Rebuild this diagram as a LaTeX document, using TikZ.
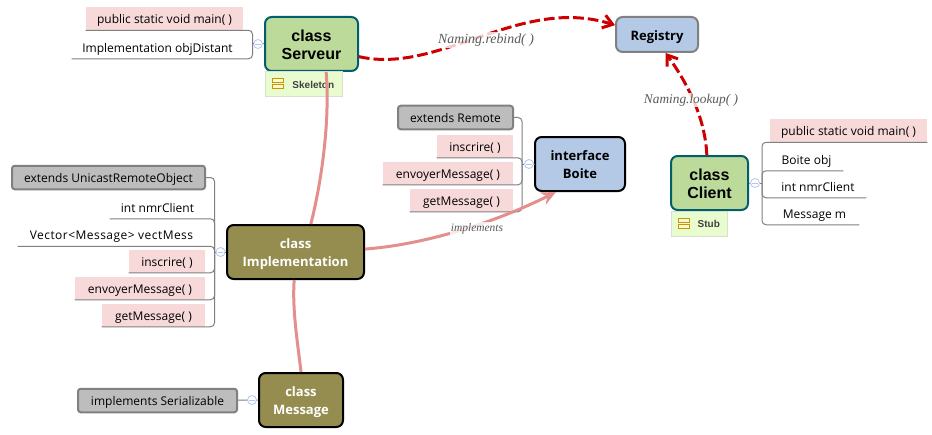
\documentclass[tikz,border=0pt]{standalone}
\usepackage{fontspec}
\setmainfont{Open Sans}
\newfontfamily\arialfont{Liberation Sans}
\newfontfamily\timesfont{Liberation Serif}
\usetikzlibrary{arrows.meta, positioning}
\definecolor{leafpink}{HTML}{F7D9D9}
\definecolor{leafgray}{HTML}{BDBDBD}
\definecolor{branchgray}{HTML}{808080}
\definecolor{greenfill}{HTML}{BCDB9A}
\definecolor{tealline}{HTML}{005F6B}
\definecolor{olivefill}{HTML}{958D4F}
\definecolor{bluefill}{HTML}{B4C9E5}
\definecolor{notefill}{HTML}{E8FCCF}
\definecolor{noteline}{HTML}{D8E0D0}
\definecolor{iconline}{HTML}{C89600}
\definecolor{iconfill}{HTML}{FFF8D0}
\definecolor{togglecol}{HTML}{B4C6F0}
\definecolor{linkpink}{HTML}{E58E8E}
\definecolor{linkred}{HTML}{CC0000}
\newcommand{\px}{0.75pt}
\tikzset{
    leaf/.style={inner sep=0pt, minimum height=23*\px, text height=8pt, text depth=0pt, font=\fontsize{9}{11}\selectfont},
    pinkleaf/.style={leaf, fill=leafpink},
    grayleaf/.style={leaf, fill=leafgray, draw=branchgray, line width=1.5pt, rounded corners=2pt, minimum height=23.5*\px},
    branch/.style={draw=branchgray, line width=0.75pt, rounded corners=3pt},
    classbox/.style={draw, line width=1.5pt, rounded corners=5pt, inner sep=0pt, align=center},
    greenclass/.style={classbox, draw=tealline, fill=greenfill, text height=23pt, text depth=0pt, font=\arialfont\fontsize{12}{13.5}\selectfont\bfseries},
    oliveclass/.style={classbox, draw=black, fill=olivefill, text=white, text height=22.2pt, text depth=0pt, font=\fontsize{9.75}{13.5}\selectfont\bfseries},
    blueclass/.style={classbox, draw=black, fill=bluefill, text height=22.2pt, text depth=0pt, font=\fontsize{9.75}{13.5}\selectfont\bfseries},
    notebox/.style={draw=noteline, fill=notefill, line width=0.75pt, inner sep=0pt, minimum height=25*\px, text=black!75, font=\arialfont\fontsize{7.5}{9}\selectfont\bfseries},
    iconbar/.style={draw=iconline, fill=iconfill, line width=0.75pt},
    toggle/.style={circle, draw=togglecol, fill=white, line width=0.6pt, inner sep=0pt, minimum size=9*\px,
        path picture={\draw[togglecol, line width=0.6pt] ([xshift=-2pt]path picture bounding box.center) -- ([xshift=2pt]path picture bounding box.center);}},
    softlink/.style={draw=linkpink, line width=2.25pt},
    remotelink/.style={draw=linkred, line width=2.25pt, dash pattern=on 8pt off 3pt, -{Straight Barb[length=7pt,width=10pt]}},
    linklabel/.style={fill=white, fill opacity=0.8, text opacity=1, inner sep=1pt, text=black!65, font=\timesfont\itshape\fontsize{10.4}{12}\selectfont},
}
\begin{document}
\begin{tikzpicture}[x=\px, y=-\px]
    \useasboundingbox (0,0) rectangle (932,435);

    % main boxes
    \node[greenclass, minimum width=93*\px, minimum height=54*\px] (serveur) at (311.5,44) {class\\Serveur};
    \node[greenclass, minimum width=77*\px, minimum height=54*\px] (client) at (709.5,183) {class\\Client};
    \node[oliveclass, minimum width=137*\px, minimum height=54*\px] (implementation) at (295.5,252) {class\\Implementation};
    \node[oliveclass, minimum width=84*\px, minimum height=54*\px] (message) at (301,400) {class\\Message};
    \node[blueclass, minimum width=90*\px, minimum height=54*\px] (boite) at (580,164) {interface\\Boite};
    \node[blueclass, draw=branchgray, text height=9.3pt, text depth=0pt, minimum width=82*\px, minimum height=35*\px] (registry) at (657,34.5) {Registry};

    % notes under the green boxes
    \node[notebox, minimum width=77*\px] (skeleton) at (304,84.5) {\hspace*{14pt}Skeleton};
    \node[notebox, minimum width=56*\px] (stub) at (699.5,223.5) {\hspace*{14pt}Stub};
    \foreach \ytop in {79,85} {
        \draw[iconbar] (272,\ytop) rectangle (283,\ytop+4);
        \draw[iconbar] (678,\ytop+139) rectangle (689,\ytop+143);
    }

    % toggles and hubs
    \node[toggle] (toggleServeur) at (258,44) {};
    \node[toggle] (toggleImpl) at (220.5,252) {};
    \node[toggle] (toggleBoite) at (529,164) {};
    \node[toggle] (toggleClient) at (755,183) {};
    \node[toggle] (toggleMessage) at (252,400) {};
    \coordinate (hubServeur) at (252.5,44);
    \coordinate (hubImpl) at (214.5,252);
    \coordinate (hubBoite) at (522,164);
    \coordinate (hubClient) at (762,183);

    % class Serveur
    \node[pinkleaf, minimum width=157*\px] (srvMain) at (164.5,18.5) {public static void main( )};
    \node[leaf, minimum width=171*\px] (srvObj) at (157.5,47) {Implementation objDistant};
    \foreach \leafname in {srvMain, srvObj}
        \draw[branch] (hubServeur) |- (\leafname.south west);
    \draw[branch] (hubServeur) -- (toggleServeur) -- (serveur);

    % class Implementation
    \node[grayleaf, minimum width=193*\px] (implExtends) at (108.5,177.5) {extends UnicastRemoteObject};
    \node[leaf, minimum width=95*\px] (implInt) at (157.5,207) {int nmrClient};
    \node[leaf, minimum width=187*\px] (implVect) at (111.5,234.5) {\addfontfeature{LetterSpace=3.8}Vector<Message> vectMess};
    \node[pinkleaf, minimum width=76*\px] (implInscrire) at (167,261) {inscrire( )};
    \node[pinkleaf, minimum width=130*\px] (implEnvoyer) at (140,288) {envoyerMessage( )};
    \node[pinkleaf, minimum width=103*\px] (implGet) at (153.5,315) {getMessage( )};
    \foreach \leafname in {implInt, implVect, implInscrire, implEnvoyer, implGet}
        \draw[branch] (hubImpl) |- (\leafname.south west);
    \draw[branch] (hubImpl) |- (implExtends.east);
    \draw[branch] (hubImpl) -- (toggleImpl) -- (implementation);

    % interface Boite
    \node[grayleaf, minimum width=115*\px] (boiteExtends) at (455.5,117.5) {extends Remote};
    \node[pinkleaf, minimum width=76*\px] (boiteInscrire) at (475,146) {inscrire( )};
    \node[pinkleaf, minimum width=130*\px] (boiteEnvoyer) at (448,173) {envoyerMessage( )};
    \node[pinkleaf, minimum width=103*\px] (boiteGet) at (461.5,200) {getMessage( )};
    \foreach \leafname in {boiteInscrire, boiteEnvoyer, boiteGet}
        \draw[branch] (hubBoite) |- (\leafname.south west);
    \draw[branch] (hubBoite) |- (boiteExtends.east);
    \draw[branch] (hubBoite) -- (toggleBoite) -- (boite);

    % class Client
    \node[pinkleaf, minimum width=157*\px] (cliMain) at (848.5,130.5) {public static void main( )};
    \node[leaf, minimum width=73*\px] (cliObj) at (806.5,159) {Boite obj};
    \node[leaf, minimum width=96*\px] (cliInt) at (818,186) {int nmrClient};
    \node[leaf, minimum width=89*\px] (cliMsg) at (814.5,213) {Message m};
    \foreach \leafname in {cliMain, cliObj, cliInt, cliMsg}
        \draw[branch] (hubClient) |- (\leafname.south east);
    \draw[branch] (client) -- (toggleClient) -- (hubClient);

    % class Message
    \node[grayleaf, minimum width=159*\px] (msgImplements) at (157.5,400.5) {implements Serializable};
    \draw[branch] (msgImplements) -- (toggleMessage) -- (message);

    % links between classes
    \draw[softlink] ([xshift=11pt]serveur.south) .. controls (330,120) and (322,180) .. ([xshift=11.5pt]implementation.north);
    \draw[softlink] ([xshift=-1pt]implementation.south) .. controls (292,310) and (298,345) .. (message.north);
    \draw[softlink, -{Stealth[length=11pt,width=10pt]}] ([yshift=2.2pt]implementation.east) .. controls (420,245) and (490,225) .. ([xshift=-18pt]boite.south);
    \draw[remotelink] ([yshift=-9.5pt]serveur.east) .. controls (440,75) and (520,-5) .. ([yshift=7pt]registry.west);
    \draw[remotelink] ([xshift=-2pt]client.north) .. controls (705,115) and (685,80) .. ([xshift=6.5pt]registry.south);

    % link labels
    \node[linklabel] (rebindLabel) at (486,40) {Naming.rebind( )};
    \node[linklabel, font=\timesfont\itshape\fontsize{10}{12}\selectfont] (lookupLabel) at (691,100) {Naming.lookup( )};
    \node[linklabel, font=\timesfont\itshape\fontsize{8.6}{10}\selectfont] (implementsLabel) at (477,229) {implements};
\end{tikzpicture}
\end{document}
